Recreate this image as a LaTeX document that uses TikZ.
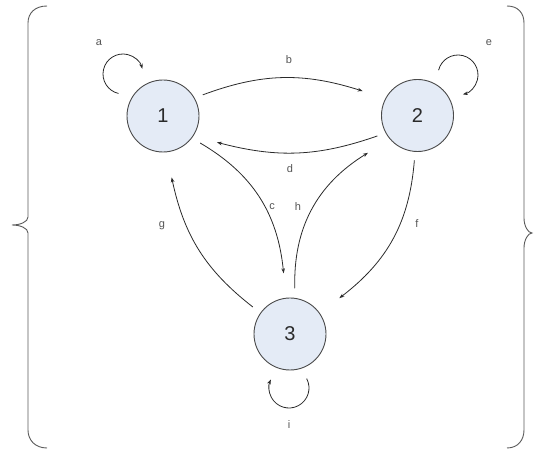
\documentclass[tikz,border=0pt]{standalone}
\usepackage{fontspec}
\setsansfont{Liberation Sans}
\usetikzlibrary{arrows.meta,calc}
\definecolor{fsmFill}{HTML}{E4EBF6}
\definecolor{fsmRim}{HTML}{4A4A4A}
\definecolor{fsmInk}{HTML}{2A2A2A}
\definecolor{fsmLabel}{HTML}{555555}
\definecolor{fsmBrace}{HTML}{5A5A5A}
\newcommand{\FSMType}{\sffamily\fontsize{11}{13}\selectfont}
\newcommand{\FSMBig}{\sffamily\fontsize{20}{24}\selectfont}
\tikzset{fsm/base/.style={x=1pt,y=1pt,line cap=butt,line join=miter,
  every node/.style={font=\FSMType,inner sep=0pt,text=fsmLabel}},
  fsm/edge/.style={-{Stealth[length=5pt,width=3.6pt]},draw=fsmInk,line width=.8pt},
  fsm/state/.style={circle,draw=fsmRim,fill=fsmFill,line width=.9pt,
    minimum size=72pt,font=\FSMBig,text=fsmInk},
  fsm/brace/.style={draw=fsmBrace,line width=.9pt}}

\begin{document}
\begin{tikzpicture}[fsm/base]
  \useasboundingbox (0,0) rectangle (539,450);
  % the three states
  \node[fsm/state] (n1) at (163,334) {1};
  \node[fsm/state] (n2) at (417.5,334.5) {2};
  \node[fsm/state] (n3) at (290,116) {3};
  % transitions between states
  \draw[fsm/edge] ($(n1)+(28:45)$) to[bend left=19] ($(n2)+(156:60)$);
  \draw[fsm/edge] ($(n2)+(207:45)$) to[bend left=17] ($(n1)+(-26:60)$);
  \draw[fsm/edge] ($(n1)+(-36:46)$) to[bend left=27] ($(n3)+(96:61)$);
  \draw[fsm/edge] ($(n3)+(84:46)$) to[bend left=30] ($(n2)+(217:62)$);
  \draw[fsm/edge] ($(n3)+(144:46)$) to[bend left=20] ($(n1)+(-82:62)$);
  \draw[fsm/edge] ($(n2)+(-94:45)$) to[bend left=24] ($(n3)+(36:61)$);
  % self loops
  \draw[fsm/edge] ($(n1)+(-40,42)+(257:20)$) arc[start angle=257,end angle=15,radius=20pt];
  \draw[fsm/edge] ($(n2)+(40.5,40.5)+(166:20)$) arc[start angle=166,end angle=-76,radius=20pt];
  \draw[fsm/edge] ($(n3)+(-1,-54)+(28:20)$) arc[start angle=28,end angle=-205,radius=20pt];
  % transition labels
  \node (la) at (99,407) {a};
  \node (lb) at (289,390) {b};
  \node (lc) at (272,243) {c};
  \node (ld) at (290,281) {d};
  \node (le) at (489,407) {e};
  \node (lf) at (417,226) {f};
  \node (lg) at (162,224) {g};
  \node (lh) at (298,243) {h};
  \node (li) at (289,25) {i};
  % enclosing braces
  \draw[fsm/brace] (47,444) .. controls (35,444) and (28,437) .. (28,427) -- (28,233)
    .. controls (28,228) and (20,225) .. (12,225) .. controls (20,225) and (28,222) .. (28,217)
    -- (28,20) .. controls (28,10) and (35,2) .. (47,2);
  \draw[fsm/brace] (507,444) .. controls (518,444) and (524,437) .. (524,427) -- (524,232)
    .. controls (524,224) and (528,217) .. (532,217) .. controls (528,217) and (524,210) .. (524,202)
    -- (524,20) .. controls (524,10) and (518,2) .. (507,2);
\end{tikzpicture}
\end{document}
